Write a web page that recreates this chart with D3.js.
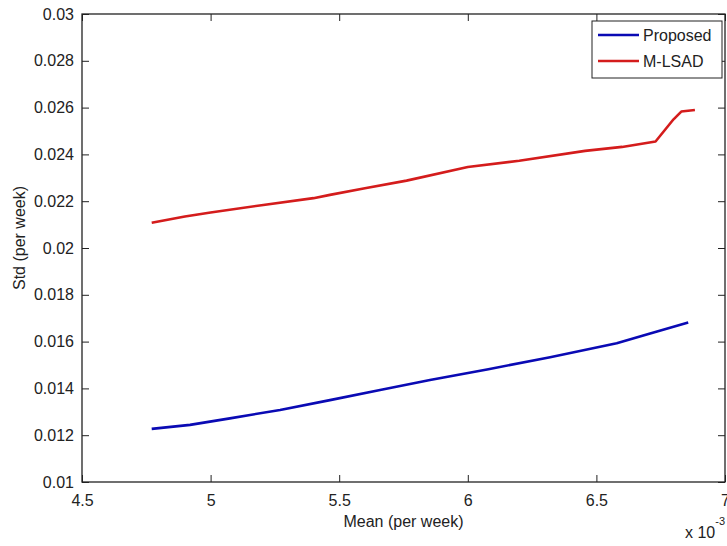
<!DOCTYPE html>
<html>
<head>
<meta charset="utf-8">
<script src="https://cdn.jsdelivr.net/npm/d3@7"></script>
<style>
html,body{margin:0;padding:0;background:#fff;overflow:hidden;}
text{font-family:"Liberation Sans",Arial,sans-serif;fill:#222;}
</style>
</head>
<body>
<svg id="chart" width="727" height="546"></svg>
<script>
// Data (x in units of 1e-3)
const seriesNames = ["Proposed", "M-LSAD"];
const seriesColors = ["#0a0ab4", "#d41c1c"];
const proposedX = [4.771, 4.92, 5.075, 5.27, 5.464, 5.659, 5.853, 6.08, 6.32, 6.579, 6.709, 6.857];
const proposedY = [0.01227, 0.01244, 0.01272, 0.01308, 0.0135, 0.01393, 0.01436, 0.01482, 0.01533, 0.01593, 0.01635, 0.01682];
const mlsadX = [4.771, 4.9, 5.0, 5.205, 5.4, 5.464, 5.6, 5.762, 6.0, 6.2, 6.456, 6.6, 6.73, 6.8, 6.83, 6.883];
const mlsadY = [0.02108, 0.02135, 0.02152, 0.02184, 0.02213, 0.02227, 0.02255, 0.02288, 0.02346, 0.02373, 0.02415, 0.02432, 0.02455, 0.0255, 0.02583, 0.0259];
const xTicks = [4.5, 5, 5.5, 6, 6.5, 7];
const xTickLabels = ["4.5", "5", "5.5", "6", "6.5", "7"];
const yTicks = [0.01, 0.012, 0.014, 0.016, 0.018, 0.02, 0.022, 0.024, 0.026, 0.028, 0.03];
const yTickLabels = ["0.01", "0.012", "0.014", "0.016", "0.018", "0.02", "0.022", "0.024", "0.026", "0.028", "0.03"];
const xLabel = "Mean (per week)";
const yLabel = "Std (per week)";

const L = 82, R = 725, T = 14, B = 482;
const svg = d3.select("#chart");
const x = d3.scaleLinear().domain([4.5, 7]).range([L, R]);
const y = d3.scaleLinear().domain([0.01, 0.03]).range([B, T]);

const tickLen = 7;
const axisColor = "#222";

// axes using d3 axis generators
const fmtX = (d, i) => xTickLabels[xTicks.indexOf(d)];
const fmtY = (d) => yTickLabels[yTicks.indexOf(d)];

const gx = svg.append("g").attr("transform", `translate(0,${B})`)
  .call(d3.axisBottom(x).tickValues(xTicks).tickFormat(fmtX).tickSize(-tickLen).tickPadding(13));
const gxTop = svg.append("g").attr("transform", `translate(0,${T})`)
  .call(d3.axisTop(x).tickValues(xTicks).tickFormat("").tickSize(-tickLen));
const gy = svg.append("g").attr("transform", `translate(${L},0)`)
  .call(d3.axisLeft(y).tickValues(yTicks).tickFormat(fmtY).tickSize(-tickLen).tickPadding(8));
const gyR = svg.append("g").attr("transform", `translate(${R},0)`)
  .call(d3.axisRight(y).tickValues(yTicks).tickFormat("").tickSize(-tickLen));

[gx, gxTop, gy, gyR].forEach(g => {
  g.select(".domain").remove();
  g.selectAll(".tick line").attr("stroke", axisColor).attr("stroke-width", 1);
  g.selectAll("text").attr("font-size", 16).attr("fill", "#222")
    .attr("font-family", '"Liberation Sans",Arial,sans-serif');
});

// box
svg.append("rect").attr("x", L).attr("y", T).attr("width", R - L).attr("height", B - T)
  .attr("fill", "none").attr("stroke", axisColor).attr("stroke-width", 1.3);

// lines
const line = d3.line().x(d => x(d[0])).y(d => y(d[1]));
const data = [
  d3.zip(proposedX, proposedY),
  d3.zip(mlsadX, mlsadY)
];
data.forEach((pts, i) => {
  svg.append("path").datum(pts).attr("d", line)
    .attr("fill", "none").attr("stroke", seriesColors[i])
    .attr("stroke-width", 2.6).attr("stroke-linejoin", "round").attr("stroke-linecap", "butt");
});

// labels
svg.append("text").attr("x", (L + R) / 2).attr("y", 527).attr("text-anchor", "middle")
  .attr("font-size", 16).text(xLabel);
svg.append("text").attr("transform", `translate(25,238) rotate(-90)`).attr("text-anchor", "middle")
  .attr("font-size", 16).text(yLabel);

// exponent
const ex = svg.append("text").attr("x", 685).attr("y", 538).attr("font-size", 16);
ex.append("tspan").text("x 10");
ex.append("tspan").attr("dy", -13).attr("font-size", 11).text("-3");

// legend
const lg = svg.append("g");
lg.append("rect").attr("x", 592).attr("y", 21).attr("width", 130).attr("height", 57)
  .attr("fill", "#fff").attr("stroke", axisColor).attr("stroke-width", 1);
seriesNames.forEach((n, i) => {
  const yy = 35 + i * 26;
  lg.append("line").attr("x1", 598).attr("x2", 639).attr("y1", yy).attr("y2", yy)
    .attr("stroke", seriesColors[i]).attr("stroke-width", 2.4);
  lg.append("text").attr("x", 643).attr("y", yy).attr("dy", "0.36em")
    .attr("font-size", 16).text(n);
});
</script>
</body>
</html>
